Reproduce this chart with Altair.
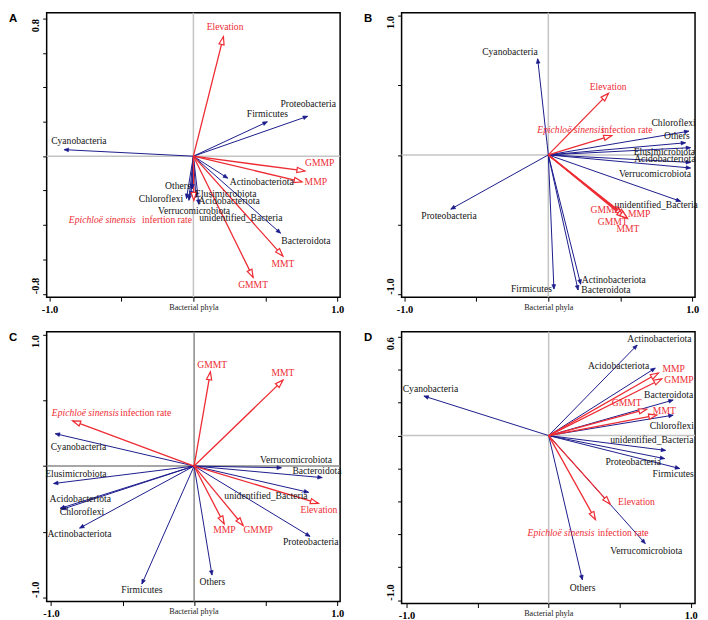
import math
import altair as alt
import pandas as pd

BLUE = "#1b1b8c"
RED = "#ee2c34"
TXT = "#141414"
SERIF = "Liberation Serif"
FS = 9.7
ENV = {"Elevation", "GMMP", "MMP", "GMMT", "MMT", "Epichloë sinensis infection rate"}
RED_HEAD = "M0,0L-0.33,1L0.33,1Z"
BLUE_HEAD = "M0,0L-0.42,1L0.42,1Z"

# ---------------- Panel A ----------------
A_names = ["Elevation", "Proteobacteria", "Firmicutes", "Cyanobacteria", "GMMP", "MMP",
           "Actinobacteriota", "Bacteroidota", "MMT", "GMMT", "Others", "Chloroflexi",
           "Verrucomicrobiota", "Elusimicrobiota", "Epichloë sinensis infection rate",
           "Acidobacteriota", "unidentified_Bacteria"]
A_x = [0.209, 0.794, 0.514, -0.899, 0.775, 0.755, 0.239, 0.606, 0.622, 0.415,
       -0.008, -0.048, -0.031, -0.017, 0.003, 0.038, 0.017]
A_y = [0.695, 0.232, 0.200, 0.038, -0.086, -0.149, -0.128, -0.448, -0.581, -0.705,
       -0.190, -0.246, -0.257, -0.230, -0.257, -0.280, -0.240]
A_lab = ["Elevation", "Proteobacteria", "Firmicutes", "Cyanobacteria", "GMMP", "MMP",
         "Actinobacteriota", "Others", "Chloroflexi", "Elusimicrobiota", "Acidobacteriota",
         "Verrucomicrobiota", "unidentified_Bacteria", "Epichloë sinensis", "infertion rate",
         "Bacteroidota", "MMT", "GMMT"]
A_lab_x = [0.220, 0.798, 0.514, -0.796, 0.878, 0.851, 0.475, -0.108, -0.225, 0.225, 0.248,
           0.005, 0.330, -0.633, -0.183, 0.782, 0.622, 0.415]
A_lab_y = [0.749, 0.301, 0.244, 0.086, -0.042, -0.152, -0.152, -0.171, -0.248, -0.219, -0.263,
           -0.320, -0.362, -0.371, -0.371, -0.491, -0.629, -0.747]
A_lab_kind = ["r", "b", "b", "b", "r", "r", "b", "b", "b", "b", "b", "b", "b", "ri", "r", "b", "r", "r"]

# ---------------- Panel B ----------------
B_names = ["Cyanobacteria", "Elevation", "Epichloë sinensis infection rate", "Chloroflexi", "Others",
           "Elusimicrobiota", "Acidobacteriota", "Verrucomicrobiota", "unidentified_Bacteria",
           "Proteobacteria", "GMMP", "MMP", "GMMT", "MMT", "Firmicutes", "Actinobacteriota",
           "Bacteroidota"]
B_x = [-0.074, 0.418, 0.441, 0.977, 0.954, 0.989, 0.989, 0.989, 0.920, -0.678, 0.520, 0.540,
       0.530, 0.550, 0.039, 0.225, 0.207]
B_y = [0.689, 0.441, 0.139, 0.170, 0.087, 0.052, -0.054, -0.094, -0.333, -0.389, -0.430, -0.440,
       -0.450, -0.455, -0.962, -0.927, -0.969]
B_lab = ["Cyanobacteria", "Elevation", "Epichloë sinensis", "infection rate", "Chloroflexi", "Others",
         "Elusimicrobiota", "Acidobacteriota", "Verrucomicrobiota", "unidentified_Bacteria",
         "Proteobacteria", "GMMP", "MMP", "GMMT", "MMT", "Firmicutes", "Actinobacteriota", "Bacteroidota"]
B_lab_x = [-0.267, 0.416, 0.156, 0.547, 0.871, 0.894, 0.807, 0.810, 0.741, 0.750, -0.690, 0.396,
           0.632, 0.448, 0.554, -0.117, 0.455, 0.400]
B_lab_y = [0.736, 0.488, 0.177, 0.177, 0.229, 0.134, 0.024, -0.031, -0.137, -0.356, -0.436, -0.396,
           -0.427, -0.479, -0.533, -0.962, -0.899, -0.969]
B_lab_kind = ["b", "r", "ri", "r", "b", "b", "b", "b", "b", "b", "b", "r", "r", "r", "r", "b", "b", "b"]

# ---------------- Panel C ----------------
C_names = ["GMMT", "MMT", "Epichloë sinensis infection rate", "Cyanobacteria", "Verrucomicrobiota",
           "Bacteroidota", "Elusimicrobiota", "unidentified_Bacteria", "Elevation", "Acidobacteriota",
           "Chloroflexi", "Actinobacteriota", "MMP", "GMMP", "Proteobacteria", "Others", "Firmicutes"]
C_x = [0.114, 0.621, -0.849, -0.970, 0.610, 0.895, -0.982, 0.800, 0.868, -0.936, -0.925, -0.800,
       0.210, 0.342, 0.810, 0.125, -0.365]
C_y = [0.716, 0.653, 0.344, 0.246, -0.013, -0.088, -0.133, -0.200, -0.284, -0.322, -0.330, -0.472,
       -0.440, -0.452, -0.535, -0.829, -0.897]
C_lab = ["GMMT", "MMT", "Epichloë sinensis", "infection rate", "Cyanobacteria", "Verrucomicrobiota",
         "Bacteroidota", "Elusimicrobiota", "unidentified_Bacteria", "Elevation", "Acidobacteriota",
         "Chloroflexi", "Actinobacteriota", "MMP", "GMMP", "Proteobacteria", "Others", "Firmicutes"]
C_lab_x = [0.126, 0.621, -0.760, -0.338, -0.808, 0.712, 0.858, -0.826, 0.502, 0.872, -0.795, -0.783,
           -0.801, 0.212, 0.447, 0.815, 0.128, -0.365]
C_lab_y = [0.766, 0.704, 0.402, 0.402, 0.146, 0.045, -0.038, -0.063, -0.231, -0.334, -0.251, -0.352,
           -0.515, -0.490, -0.490, -0.578, -0.879, -0.942]
C_lab_kind = ["r", "r", "ri", "r", "b", "b", "b", "b", "b", "r", "b", "b", "b", "r", "r", "b", "b", "b"]

# ---------------- Panel D ----------------
D_names = ["Actinobacteriota", "Acidobacteriota", "MMP", "GMMP", "Bacteroidota", "GMMT", "MMT",
           "Chloroflexi", "Cyanobacteria", "unidentified_Bacteria", "Proteobacteria", "Firmicutes",
           "Elevation", "Epichloë sinensis infection rate", "Verrucomicrobiota", "Others"]
D_x = [0.623, 0.750, 0.772, 0.795, 0.876, 0.690, 0.760, 0.876, -0.878, 0.823, 0.816, 0.922,
       0.432, 0.329, 0.680, 0.237]
D_y = [0.550, 0.410, 0.380, 0.344, 0.216, 0.160, 0.124, 0.124, 0.240, -0.090, -0.140, -0.200,
       -0.416, -0.510, -0.656, -0.876]
D_lab = ["Actinobacteriota", "Acidobacteriota", "MMP", "GMMP", "Bacteroidota", "GMMT", "MMT",
         "Chloroflexi", "Cyanobacteria", "unidentified_Bacteria", "Proteobacteria", "Firmicutes",
         "Elevation", "Epichloë sinensis", "infection rate", "Verrucomicrobiota", "Others"]
D_lab_x = [0.779, 0.492, 0.880, 0.917, 0.844, 0.549, 0.814, 0.867, -0.832, 0.726, 0.595, 0.876,
           0.618, 0.087, 0.524, 0.687, 0.239]
D_lab_y = [0.584, 0.420, 0.404, 0.340, 0.246, 0.200, 0.150, 0.060, 0.284, -0.030, -0.160, -0.236,
           -0.404, -0.590, -0.590, -0.704, -0.924]
D_lab_kind = ["b", "b", "r", "r", "b", "r", "r", "b", "b", "b", "b", "b", "r", "ri", "r", "b", "b"]

X_TICKS = [-1, -0.5, 0, 0.5, 1]
A_YTICKS = [-0.8, -0.6, -0.4, -0.2, 0, 0.2, 0.4, 0.6, 0.8]
B_YTICKS = [-1, -0.5, 0, 0.5, 1]
C_YTICKS = [-1, -0.5, 0, 0.5, 1]
D_YTICKS = [-1, -0.8, -0.6, -0.4, -0.2, 0, 0.2, 0.4, 0.6]


def fmt(v):
    return f"{v:.1f}"


def panel(letter, names, ax, ay, labs, lx, ly, lk, xdom, ydom, yvals, w, h, zcolor):
    sx = w / (xdom[1] - xdom[0])
    sy = h / (ydom[1] - ydom[0])
    arr = pd.DataFrame({"name": names, "x": ax, "y": ay})
    arr["ox"] = 0.0
    arr["oy"] = 0.0
    arr["env"] = arr["name"].isin(ENV)
    arr["ang"] = [math.degrees(math.atan2(a * sx, b * sy)) % 360 for a, b in zip(ax, ay)]
    lab = pd.DataFrame({"text": labs, "x": lx, "y": ly, "kind": lk})

    lo, hi = min(yvals), max(yvals)
    ylab = f"datum.value < {lo + 0.01} ? '{fmt(lo)}' : datum.value > {hi - 0.01} ? '{fmt(hi)}' : ''"
    xs = alt.Scale(domain=xdom, nice=False, zero=False)
    ys = alt.Scale(domain=ydom, nice=False, zero=False)
    xax = alt.Axis(values=X_TICKS,
                   labelExpr="datum.value < -0.99 ? '-1.0' : datum.value > 0.99 ? '1.0' : ''",
                   title="Bacterial phyla", grid=False, domain=False, tickSize=4,
                   tickColor="black", tickWidth=1, labelFont=SERIF, labelFontSize=10.5,
                   labelFontWeight="bold", labelColor="black", labelPadding=3,
                   labelFlush=False, labelOverlap=False, titleFont=SERIF, titleFontSize=8.2,
                   titleFontWeight="normal", titleColor="#222222", titleY=6,
                   titleBaseline="top")
    yax = alt.Axis(values=yvals, labelExpr=ylab, title=None, grid=False, domain=False,
                   tickSize=4, tickColor="black", tickWidth=1, labelFont=SERIF,
                   labelFontSize=10.5, labelFontWeight="bold", labelColor="black",
                   labelPadding=2, labelAngle=270,
                   labelAlign={"condition": {"test": "datum.value < 0", "value": "left"},
                               "value": "right"},
                   labelBaseline="bottom", labelOverlap=False, labelFlush=False)

    def X(f):
        return alt.X(f, type="quantitative", scale=xs, axis=xax)

    def Y(f):
        return alt.Y(f, type="quantitative", scale=ys, axis=yax)

    zero = pd.DataFrame({"x": [0.0], "y": [0.0]})
    vline = alt.Chart(zero).mark_rule(color=zcolor, strokeWidth=1.5).encode(x=X("x"))
    hline = alt.Chart(zero).mark_rule(color=zcolor, strokeWidth=1.5).encode(y=Y("y"))

    blue = arr[~arr["env"]]
    red = arr[arr["env"]]
    bl = alt.Chart(blue).mark_rule(color=BLUE, strokeWidth=1).encode(
        x=X("ox"), y=Y("oy"), x2="x", y2="y")
    rl = alt.Chart(red).mark_rule(color=RED, strokeWidth=1.3).encode(
        x=X("ox"), y=Y("oy"), x2="x", y2="y")
    bh = alt.Chart(blue).mark_point(shape=BLUE_HEAD, size=81, filled=True, fill=BLUE,
                                    stroke=BLUE, strokeWidth=0.6, opacity=1).encode(
        x=X("x"), y=Y("y"), angle=alt.Angle("ang:Q", scale=None))
    rh = alt.Chart(red).mark_point(shape=RED_HEAD, size=256, fill="white", stroke=RED,
                                   strokeWidth=1.2, opacity=1, fillOpacity=1).encode(
        x=X("x"), y=Y("y"), angle=alt.Angle("ang:Q", scale=None))

    tb = alt.Chart(lab[lab["kind"] == "b"]).mark_text(
        font=SERIF, fontSize=FS, color=TXT, baseline="middle").encode(
        x=X("x"), y=Y("y"), text="text:N")
    tr = alt.Chart(lab[lab["kind"] == "r"]).mark_text(
        font=SERIF, fontSize=FS, color=RED, baseline="middle").encode(
        x=X("x"), y=Y("y"), text="text:N")
    ti = alt.Chart(lab[lab["kind"] == "ri"]).mark_text(
        font=SERIF, fontSize=FS, color=RED, fontStyle="italic", baseline="middle").encode(
        x=X("x"), y=Y("y"), text="text:N")

    let = alt.Chart(pd.DataFrame({"t": [letter]})).mark_text(
        font="Liberation Sans", fontWeight="bold", fontSize=11.5, align="left",
        baseline="top", color="black").encode(
        x=alt.value(-38), y=alt.value(0), text="t:N")

    return alt.layer(vline, hline, bl, rl, bh, rh, tb, tr, ti, let).properties(width=w, height=h)


pA = panel("A", A_names, A_x, A_y, A_lab, A_lab_x, A_lab_y, A_lab_kind,
           [-1.02, 1.02], [-0.82, 0.835], A_YTICKS, 296, 287, "#c4c4c4")
pB = panel("B", B_names, B_x, B_y, B_lab, B_lab_x, B_lab_y, B_lab_kind,
           [-1.02, 1.02], [-1.02, 1.02], B_YTICKS, 296, 287, "#c4c4c4")
pC = panel("C", C_names, C_x, C_y, C_lab, C_lab_x, C_lab_y, C_lab_kind,
           [-1.03, 1.02], [-1.03, 1.02], C_YTICKS, 296, 272, "#8a8a8a")
pD = panel("D", D_names, D_x, D_y, D_lab, D_lab_x, D_lab_y, D_lab_kind,
           [-1.035, 1.03], [-1.02, 0.63], D_YTICKS, 296, 274, "#c4c4c4")

top = alt.hconcat(pA, pB, spacing=18)
bot = alt.hconcat(pC, pD, spacing=18)
chart = alt.vconcat(top, bot, spacing=14).properties(
    padding=0, background="white"
).configure_view(stroke="black", strokeWidth=1.5)

chart.save("out.html", embed_options={"renderer": "svg", "actions": False})
